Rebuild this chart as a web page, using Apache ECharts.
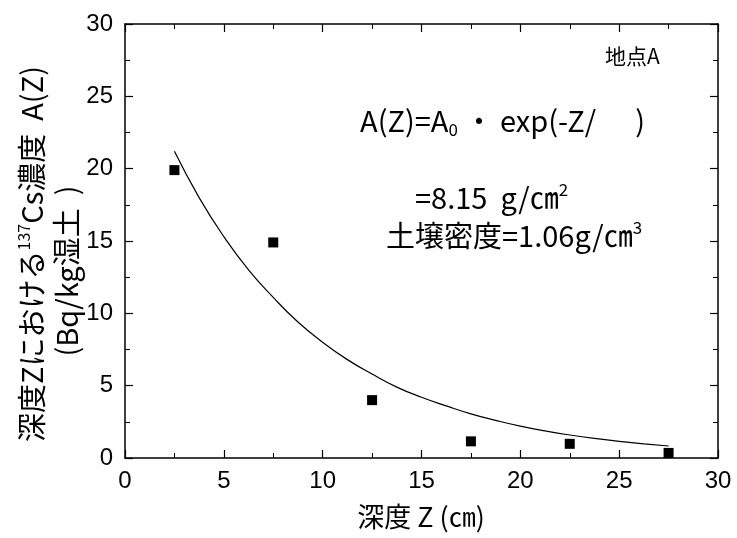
<!DOCTYPE html>
<html><head><meta charset="utf-8">
<script src="https://cdn.jsdelivr.net/npm/echarts@6/dist/echarts.min.js"></script>
<style>html,body{margin:0;padding:0;background:#fff}#c{width:737px;height:538px}</style>
</head><body><div id="c"></div>
<script>
const depthPoints = [2.5, 7.5, 12.5, 17.5, 22.5, 27.5];
const concPoints = [19.9, 14.9, 4.0, 1.15, 0.98, 0.35];
const fitDepth = [2.5, 3.75, 5, 6.25, 7.5, 8.75, 10, 11.25, 12.5, 13.75, 15, 16.25, 17.5, 18.75, 20, 21.25, 22.5, 23.75, 25, 26.25, 27.5];
const fitConc = [21.2, 18.0, 15.3, 13.0, 11.1, 9.4, 8.0, 6.8, 5.8, 4.9, 4.2, 3.6, 3.05, 2.6, 2.2, 1.87, 1.59, 1.35, 1.15, 0.98, 0.83];
const xTicks = [0, 5, 10, 15, 20, 25, 30];
const yTicks = [0, 5, 10, 15, 20, 25, 30];

const NUM = '"Liberation Sans", sans-serif';
const CJK = '"Noto Sans CJK JP", sans-serif';
const chart = echarts.init(document.getElementById('c'));
const axisCommon = {
  min: xTicks[0], max: xTicks[xTicks.length - 1], interval: 5,
  axisLine: { show: true, onZero: false, lineStyle: { color: '#000', width: 1.5 } },
  axisTick: { show: true, inside: true, length: 8, lineStyle: { color: '#000', width: 1.2 } },
  minorTick: { show: true, splitNumber: 2, length: 5, lineStyle: { color: '#000', width: 1 } },
  splitLine: { show: false }
};
chart.setOption({
  animation: false,
  backgroundColor: '#fff',
  grid: { left: 125, right: 19, top: 24, bottom: 80 },
  xAxis: [
    Object.assign({}, axisCommon, { type: 'value', position: 'bottom',
      axisLabel: { color: '#000', fontSize: 24, fontFamily: NUM, margin: 11 } }),
    Object.assign({}, axisCommon, { type: 'value', position: 'top', axisLabel: { show: false } })
  ],
  yAxis: [
    Object.assign({}, axisCommon, { type: 'value', position: 'left', min: yTicks[0], max: yTicks[yTicks.length - 1],
      axisLabel: { color: '#000', fontSize: 24, fontFamily: NUM, margin: 12 } }),
    Object.assign({}, axisCommon, { type: 'value', position: 'right', min: yTicks[0], max: yTicks[yTicks.length - 1], axisLabel: { show: false } })
  ],
  series: [
    { type: 'line', data: fitDepth.map((d, i) => [d, fitConc[i]]), smooth: true, showSymbol: false,
      lineStyle: { color: '#000', width: 1.2 }, z: 2 },
    { type: 'scatter', data: depthPoints.map((d, i) => [d, concPoints[i]]), symbol: 'rect', symbolSize: 10,
      itemStyle: { color: '#000', opacity: 1 }, z: 3 }
  ],
  graphic: [
    { type: 'text', x: 605, y: 56, style: { text: '地点A', font: '21px ' + CJK, fill: '#000', verticalAlign: 'middle' } },
    { type: 'text', x: 360, y: 121, style: {
      text: 'A(Z)=A{sub|0} ・ exp(-Z/      )', font: '29px ' + CJK, fill: '#000', verticalAlign: 'middle',
      rich: { sub: { font: '17px ' + CJK, padding: [18, 0, 0, 0] } } } },
    { type: 'text', x: 415, y: 198, style: {
      text: '=8.15  g/㎝{sup|2}', font: '29px ' + CJK, fill: '#000', verticalAlign: 'middle',
      rich: { sup: { font: '17px ' + CJK, padding: [0, 0, 16, 0] } } } },
    { type: 'text', x: 386, y: 236, style: {
      text: '土壌密度=1.06g/㎝{sup|3}', font: '29px ' + CJK, fill: '#000', verticalAlign: 'middle',
      rich: { sup: { font: '17px ' + CJK, padding: [0, 0, 16, 0] } } } },
    { type: 'text', x: 32, y: 254, rotation: Math.PI / 2, style: {
      text: '深度Zにおける{sup|137}Cs濃度  A(Z)', font: '29px ' + CJK, fill: '#000', align: 'center', verticalAlign: 'middle',
      rich: { sup: { font: '16px ' + CJK, padding: [0, 0, 16, 0] } } } },
    { type: 'text', x: 67, y: 271, rotation: Math.PI / 2, style: {
      text: '(Bq/kg湿土  )', font: '29px ' + CJK, fill: '#000', align: 'center', verticalAlign: 'middle' } },
    { type: 'text', x: 421, y: 517, style: {
      text: '深度 Z (㎝)', font: '27px ' + CJK, fill: '#000', align: 'center', verticalAlign: 'middle' } }
  ]
});
</script></body></html>
